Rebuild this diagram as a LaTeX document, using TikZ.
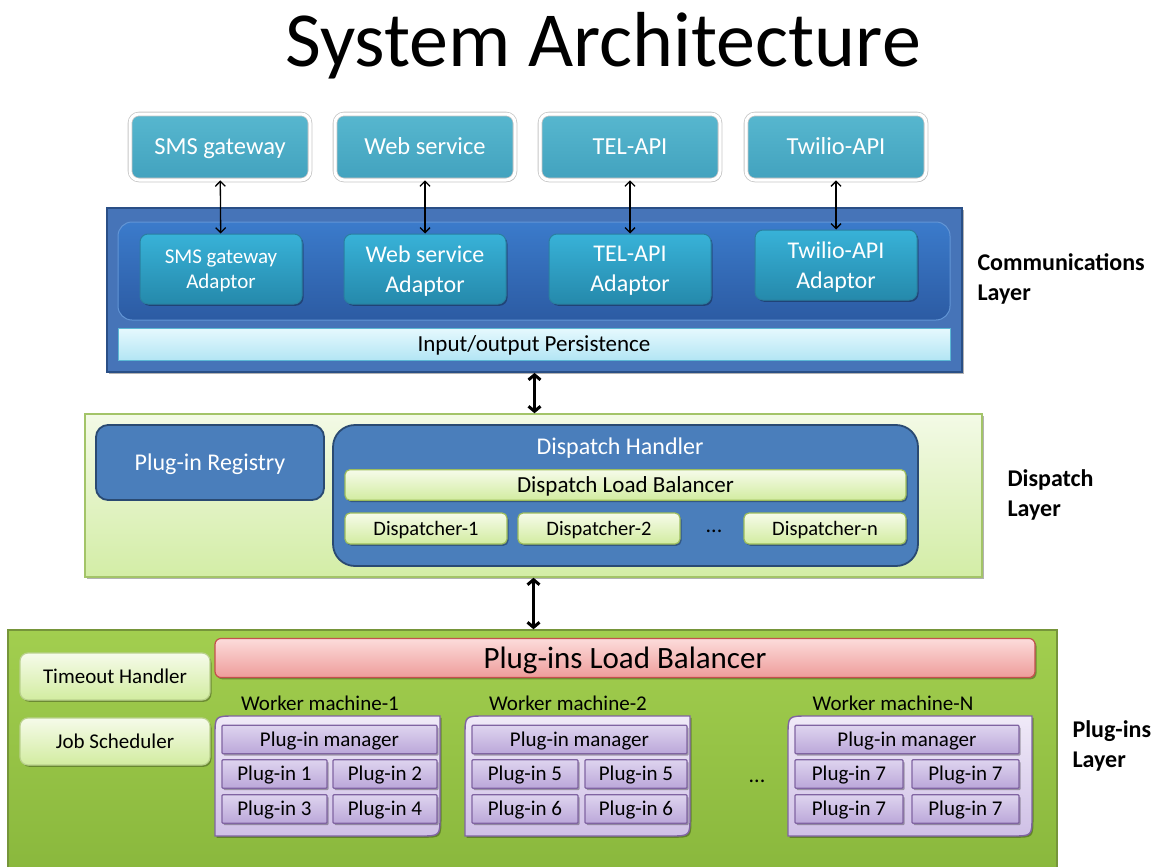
\documentclass[tikz,border=0pt]{standalone}
\usepackage{fontspec}
\setmainfont{Carlito}
\usetikzlibrary{arrows.meta,shadows}
\definecolor{svcA}{HTML}{57B7CF}
\definecolor{svcB}{HTML}{42A2BE}
\definecolor{adpA}{HTML}{38B2D8}
\definecolor{adpB}{HTML}{2589AB}
\definecolor{adpD}{HTML}{2A7FA0}
\definecolor{outerC}{HTML}{4674B8}
\definecolor{outerD}{HTML}{2A4F86}
\definecolor{innerA}{HTML}{3B7BCB}
\definecolor{innerB}{HTML}{2C5BA3}
\definecolor{perA}{HTML}{E6F9FE}
\definecolor{perB}{HTML}{B3E5F4}
\definecolor{perD}{HTML}{5BB8D4}
\definecolor{dlA}{HTML}{F3FAE6}
\definecolor{dlB}{HTML}{D3EDA6}
\definecolor{dlD}{HTML}{A3C468}
\definecolor{regC}{HTML}{4A7EBB}
\definecolor{regD}{HTML}{2A4A72}
\definecolor{lgA}{HTML}{F6FBEA}
\definecolor{lgB}{HTML}{D2ECA0}
\definecolor{lgD}{HTML}{9DBD5C}
\definecolor{plA}{HTML}{A2CE4F}
\definecolor{plB}{HTML}{8AB83D}
\definecolor{plD}{HTML}{76953A}
\definecolor{lbA}{HTML}{FCDCDB}
\definecolor{lbB}{HTML}{EE9C9A}
\definecolor{lbD}{HTML}{C4504D}
\definecolor{wmA}{HTML}{F0EAF8}
\definecolor{wmB}{HTML}{CFC0E6}
\definecolor{wmD}{HTML}{8064A2}
\definecolor{piA}{HTML}{DED4EF}
\definecolor{piB}{HTML}{BBA7D9}
\tikzset{
  fs/.style 2 args={font=\fontsize{#1}{#2}\selectfont},
  tA/.style={font=\fontsize{24.5}{28}\selectfont,text height=20.7pt,text depth=4.9pt},
  tB/.style={font=\fontsize{24}{28}\selectfont,text height=20.3pt,text depth=4.8pt},
  tC/.style={font=\fontsize{23}{26}\selectfont,text height=19.4pt,text depth=4.6pt},
  tD/.style={font=\fontsize{21}{24}\selectfont,text height=17.7pt,text depth=4.2pt},
  tE/.style={font=\fontsize{20.5}{24}\selectfont,text height=17.3pt,text depth=4.1pt},
  tF/.style={font=\fontsize{31}{34}\selectfont,text height=26.2pt,text depth=6.2pt},
  shd/.style={drop shadow={shadow xshift=1.5pt,shadow yshift=-1.8pt,opacity=0.3,fill=black}},
  svc/.style={rounded corners=9pt,top color=svcA,bottom color=svcB,draw=black!22,line width=0.8pt,
    double=white,double distance=3pt,
    minimum width=180pt,minimum height=66pt,text=white,tA,shd},
  adp/.style={rounded corners=8pt,top color=adpA,bottom color=adpB,draw=adpD,line width=1pt,
    minimum width=162pt,minimum height=70pt,text=white,align=center,text depth=-1pt,shd},
  lg/.style={rounded corners=5pt,top color=lgA,bottom color=lgB,draw=lgD,line width=1.2pt,shd},
  reg/.style={fill=regC,draw=regD,line width=1.8pt,text=white},
  pi/.style={rounded corners=1pt,top color=piA,bottom color=piB,draw=wmD,line width=1.2pt,tD,shd},
  wm/.style={top color=wmA,bottom color=wmB,draw=wmD,line width=1.4pt},
  lay/.style={anchor=west,align=left,font=\bfseries\fontsize{24}{30}\selectfont},
  thinarr/.style={line width=1.3pt,{Straight Barb[length=5pt,width=10pt]}-{Straight Barb[length=5pt,width=10pt]}},
  bigarr/.style={line width=3pt,{Straight Barb[length=5pt,width=12pt]}-{Straight Barb[length=5pt,width=12pt]}},
}
\begin{document}
\begin{tikzpicture}[x=1pt,y=-1pt]
\useasboundingbox (0,0) rectangle (1159,867);
% Title
\node[fs={78}{90}] (title) at (603,46) {System Architecture};
% Top services
\node[svc] (s1) at (220,147) {SMS gateway};
\node[svc] (s2) at (425,147) {Web service};
\node[svc] (s3) at (630,147) {TEL-API};
\node[svc] (s4) at (836,147) {Twilio-API};
% Communications layer
\node[draw=outerD,fill=outerC,line width=1.8pt,minimum width=855pt,minimum height=164pt,shd] (comm) at (534.5,290) {};
\node[rounded corners=14pt,top color=innerA,bottom color=innerB,draw=innerA!80!white,line width=1pt,minimum width=832pt,minimum height=98pt] (inner) at (534,271) {};
\node[adp,fs={21}{25}] (a1) at (221,269) {SMS gateway\\Adaptor};
\node[adp,fs={24}{30}] (a2) at (425,269) {Web service\\Adaptor};
\node[adp,fs={24}{30}] (a3) at (630,269) {TEL-API\\Adaptor};
\node[adp,fs={24}{30}] (a4) at (836,265) {Twilio-API\\Adaptor};
\node[top color=perA,bottom color=perB,draw=perD,line width=1pt,minimum width=832pt,minimum height=32pt,tC] (pers) at (534,344) {Input/output Persistence};
\draw[thinarr] (s1) -- (a1);
\draw[thinarr] (s2) -- (a2);
\draw[thinarr] (s3) -- (a3);
\draw[thinarr] (s4) -- (a4);
\node[lay] (commlbl) at (974,279) {Communications\\Layer};
% Dispatch layer
\node[top color=dlA,bottom color=dlB,draw=dlD,line width=1.5pt,minimum width=897pt,minimum height=163pt,shd] (disp) at (533.5,495.5) {};
\node[reg,rounded corners=12pt,minimum width=228pt,minimum height=75pt,tB] (preg) at (210,462.5) {Plug-in Registry};
\node[reg,rounded corners=22pt,minimum width=585pt,minimum height=141pt] (dh) at (625.5,495.5) {};
\node[text=white,tB] (dhtitle) at (620,447) {Dispatch Handler};
\node[lg,minimum width=561pt,minimum height=30pt,tC] (dlb) at (625.5,485) {Dispatch Load Balancer};
\node[lg,minimum width=162pt,minimum height=31pt,tE] (d1) at (426,528.5) {Dispatcher-1};
\node[lg,minimum width=162pt,minimum height=31pt,tE] (d2) at (599,528.5) {Dispatcher-2};
\node[lg,minimum width=162pt,minimum height=31pt,tE] (dn) at (825,528.5) {Dispatcher-n};
\node[fs={22}{24}] (ddots) at (714,531) {...};
\node[lay] (displbl) at (1004,495) {Dispatch\\Layer};
\draw[bigarr] (comm.south) -- (comm.south |- disp.north);
% Plug-ins layer
\node[top color=plA,bottom color=plB,draw=plD,line width=1.5pt,minimum width=1049pt,minimum height=240pt] (plug) at (532.5,750) {};
\draw[bigarr] (disp.south) -- (disp.south |- plug.north);
\node[rounded corners=6pt,top color=lbA,bottom color=lbB,draw=lbD,line width=1.2pt,minimum width=820pt,minimum height=32pt,tF,shd] (plb) at (625,658) {Plug-ins Load Balancer};
\node[lg,rounded corners=8pt,minimum width=190pt,minimum height=47pt,draw=lgD!70,tD] (toh) at (115,676.5) {Timeout Handler};
\node[lg,rounded corners=8pt,minimum width=190pt,minimum height=47pt,draw=lgD!70,tD] (js) at (115,741.5) {Job Scheduler};
% Worker machine 1
\path[wm,shd] (215,836) -- (215,736) .. controls (215,716) .. (235,716) -- (440,716) -- (440,816) .. controls (440,836) .. (420,836) -- cycle;
\node[tD] (w1lbl) at (320,704) {Worker machine-1};
\node[pi,minimum width=215pt,minimum height=25pt] (m1) at (329.5,739.5) {Plug-in manager};
\node[pi,minimum width=105pt,minimum height=28pt] (p1) at (274.5,774) {Plug-in 1};
\node[pi,minimum width=104pt,minimum height=28pt] (p2) at (385,774) {Plug-in 2};
\node[pi,minimum width=105pt,minimum height=28pt] (p3) at (274.5,809) {Plug-in 3};
\node[pi,minimum width=104pt,minimum height=28pt] (p4) at (385,809) {Plug-in 4};
% Worker machine 2
\path[wm,shd] (465,836) -- (465,736) .. controls (465,716) .. (485,716) -- (690,716) -- (690,816) .. controls (690,836) .. (670,836) -- cycle;
\node[tD] (w2lbl) at (568,704) {Worker machine-2};
\node[pi,minimum width=215pt,minimum height=25pt] (m2) at (579.5,739.5) {Plug-in manager};
\node[pi,minimum width=106pt,minimum height=28pt] (p5) at (525,774) {Plug-in 5};
\node[pi,minimum width=102pt,minimum height=28pt] (p5b) at (636,774) {Plug-in 5};
\node[pi,minimum width=106pt,minimum height=28pt] (p6) at (525,809) {Plug-in 6};
\node[pi,minimum width=102pt,minimum height=28pt] (p6b) at (636,809) {Plug-in 6};
\node[fs={22}{24}] (wdots) at (757,781) {...};
% Worker machine N
\path[wm,shd] (788,836) -- (788,736) .. controls (788,716) .. (808,716) -- (1032,716) -- (1032,816) .. controls (1032,836) .. (1012,836) -- cycle;
\node[tD] (wnlbl) at (893,704) {Worker machine-N};
\node[pi,minimum width=224pt,minimum height=25pt] (mn) at (907,739.5) {Plug-in manager};
\node[pi,minimum width=108pt,minimum height=28pt] (p7a) at (849,774) {Plug-in 7};
\node[pi,minimum width=107pt,minimum height=28pt] (p7b) at (965.5,774) {Plug-in 7};
\node[pi,minimum width=108pt,minimum height=28pt] (p7c) at (849,809) {Plug-in 7};
\node[pi,minimum width=107pt,minimum height=28pt] (p7d) at (965.5,809) {Plug-in 7};
\node[lay] (pllbl) at (1069,746) {Plug-ins\\Layer};
\end{tikzpicture}
\end{document}
